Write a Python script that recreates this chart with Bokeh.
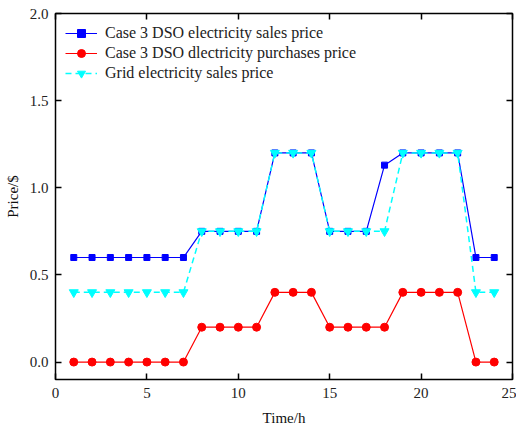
from bokeh.plotting import figure
from bokeh.models import LinearAxis, NumeralTickFormatter, Range1d, FixedTicker
from bokeh.embed import file_html
from bokeh.resources import INLINE

hours = list(range(1, 25))
dso_sales = [0.6, 0.6, 0.6, 0.6, 0.6, 0.6, 0.6, 0.75, 0.75, 0.75, 0.75, 1.2,
             1.2, 1.2, 0.75, 0.75, 0.75, 1.13, 1.2, 1.2, 1.2, 1.2, 0.6, 0.6]
dso_purchase = [0, 0, 0, 0, 0, 0, 0, 0.2, 0.2, 0.2, 0.2, 0.4,
                0.4, 0.4, 0.2, 0.2, 0.2, 0.2, 0.4, 0.4, 0.4, 0.4, 0, 0]
grid_sales = [0.4, 0.4, 0.4, 0.4, 0.4, 0.4, 0.4, 0.75, 0.75, 0.75, 0.75, 1.2,
              1.2, 1.2, 0.75, 0.75, 0.75, 0.75, 1.2, 1.2, 1.2, 1.2, 0.4, 0.4]
x_ticks = [0, 5, 10, 15, 20, 25]
y_ticks = [0.0, 0.5, 1.0, 1.5, 2.0]

FONT = "Liberation Serif"

p = figure(width=516, height=428, output_backend="svg", toolbar_location=None,
           x_range=Range1d(0, 25), y_range=Range1d(-0.1, 2.0),
           min_border_left=55, min_border_right=4, min_border_top=13, min_border_bottom=48)
p.xgrid.visible = False
p.ygrid.visible = False
p.outline_line_color = "black"
p.outline_line_width = 1.5
p.outline_line_alpha = 1.0

p.line(hours, dso_sales, color="#0000FF", line_width=1.2, legend_label="Case 3 DSO electricity sales price")
p.scatter(hours, dso_sales, marker="square", size=6, color="#0000FF", legend_label="Case 3 DSO electricity sales price")
p.line(hours, dso_purchase, color="#FF0000", line_width=1.2, legend_label="Case 3 DSO dlectricity purchases price")
p.scatter(hours, dso_purchase, marker="circle", size=8, color="#FF0000", legend_label="Case 3 DSO dlectricity purchases price")
p.line(hours, grid_sales, color="#00FFFF", line_width=1.5, line_dash="6 4", legend_label="Grid electricity sales price")
p.scatter(hours, grid_sales, marker="inverted_triangle", size=9, color="#00FFFF", legend_label="Grid electricity sales price")

for ax in (p.xaxis[0], p.yaxis[0]):
    ax.major_tick_in = 6
    ax.major_tick_out = 0
    ax.minor_tick_line_color = None
    ax.axis_line_color = None
    ax.major_tick_line_width = 1.5
    ax.major_label_text_font = FONT
    ax.major_label_text_font_size = "15px"
    ax.major_label_text_color = "#222222"
    ax.axis_label_text_font = FONT
    ax.axis_label_text_font_size = "15px"
    ax.axis_label_text_font_style = "normal"
    ax.axis_label_text_color = "#111111"

p.xaxis[0].ticker = FixedTicker(ticks=x_ticks)
p.yaxis[0].ticker = FixedTicker(ticks=y_ticks)
p.yaxis[0].formatter = NumeralTickFormatter(format="0.0")
p.xaxis[0].axis_label = "Time/h"
p.yaxis[0].axis_label = "Price/$"
p.xaxis[0].major_label_standoff = 8
p.yaxis[0].major_label_standoff = 7
p.xaxis[0].axis_label_standoff = 9
p.yaxis[0].axis_label_standoff = 6

top = LinearAxis(ticker=FixedTicker(ticks=x_ticks),
                 major_label_overrides={t: "" for t in x_ticks})
right = LinearAxis(ticker=FixedTicker(ticks=y_ticks),
                   major_label_overrides={t: "" for t in y_ticks})
for ax in (top, right):
    ax.major_tick_in = 6
    ax.major_tick_out = 0
    ax.minor_tick_line_color = None
    ax.axis_line_color = None
    ax.major_tick_line_width = 1.5
    ax.major_label_text_font_size = "1px"
    ax.major_label_standoff = 0
p.add_layout(top, "above")
p.add_layout(right, "right")

lg = p.legend[0]
lg.location = "top_left"
lg.border_line_color = None
lg.background_fill_alpha = 0
lg.margin = 10
lg.padding = 10
lg.spacing = 0
lg.glyph_width = 32
lg.glyph_height = 20
lg.label_height = 20
lg.label_standoff = 8
lg.label_text_font = FONT
lg.label_text_font_size = "16px"
lg.label_text_color = "#222222"

open("out.html", "w").write(file_html(p, INLINE))
